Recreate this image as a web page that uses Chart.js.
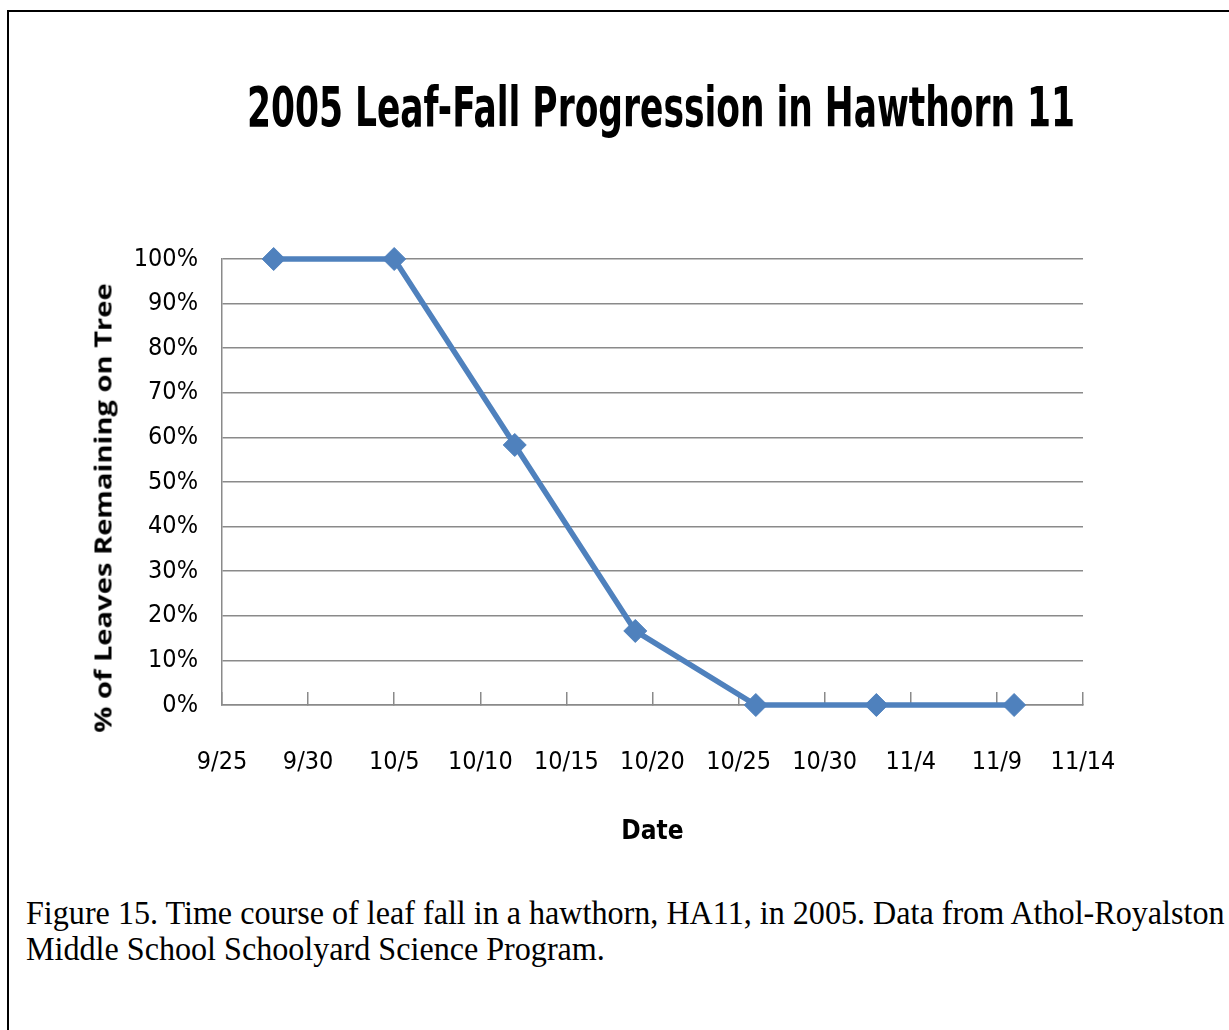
<!DOCTYPE html>
<html>
<head>
<meta charset="utf-8">
<script src="https://cdn.jsdelivr.net/npm/chart.js@4.4.1/dist/chart.umd.min.js"></script>
<style>
    html, body { margin: 0; padding: 0; background: #fff; }
    body { width: 1229px; height: 1030px; position: relative; overflow: hidden; }
    #frame { position: absolute; left: 7px; top: 10px; width: 1240px; height: 1040px;
             border-top: 2px solid #000; border-left: 2px solid #000; }
    #chartBox { position: absolute; left: 0; top: 0; width: 1229px; height: 880px; }
    #chartTitle { position: absolute; left: 247px; top: 79px; transform-origin: left top;
                  font-family: "DejaVu Sans Condensed", "DejaVu Sans", sans-serif; font-weight: bold;
                  font-size: 56px; line-height: 56px; white-space: nowrap; color: #000; }
    #yTitle { position: absolute; left: 102px; top: 508px;
              font-family: "Open Sans", "DejaVu Sans", sans-serif; font-weight: bold; font-size: 24px;
              white-space: nowrap; color: #000; }
    #caption { position: absolute; left: 26px; top: 895px; font-family: "Liberation Serif", "Times New Roman", serif;
               font-size: 33px; line-height: 36px; color: #000; }
    #caption span { display: inline-block; white-space: nowrap; transform-origin: left center; }
</style>
</head>
<body>
<div id="frame"></div>
<div id="chartBox"><canvas id="leafChart" width="1229" height="880"></canvas></div>
<div id="chartTitle">2005 Leaf-Fall Progression in Hawthorn 11</div>
<div id="yTitle">% of Leaves Remaining on Tree</div>
<div id="caption">
    <span id="capLine1">Figure 15. Time course of leaf fall in a hawthorn, HA11, in 2005. Data from Athol-Royalston</span><br>
    <span id="capLine2">Middle School Schoolyard Science Program.</span>
</div>
<script>
// observation dates (2005) and % of leaves still on the tree
var obsDates = ['9/28', '10/5', '10/12', '10/19', '10/26', '11/2', '11/10'];
var leavesPct = [100, 100, 58.3, 16.6, 0, 0, 0];
// x axis ticks, every 5 days starting 9/25
var xTickLabels = ['9/25', '9/30', '10/5', '10/10', '10/15', '10/20', '10/25', '10/30', '11/4', '11/9', '11/14'];
var yTickValues = [0, 10, 20, 30, 40, 50, 60, 70, 80, 90, 100];

var narrowFont = '"Liberation Sans Narrow", "DejaVu Sans Condensed", "Liberation Sans", sans-serif';
var gridGray = '#8a8a8a';

function dayOffset(md) {
    var p = md.split('/');
    var start = xTickLabels[0].split('/');
    return (Date.UTC(2005, +p[0] - 1, +p[1]) - Date.UTC(2005, +start[0] - 1, +start[1])) / 86400000;
}

var points = [];
for (var i = 0; i < obsDates.length; i++) {
    points.push({ x: dayOffset(obsDates[i]), y: leavesPct[i] });
}

var ctx = document.getElementById('leafChart');
var leafChart = new Chart(ctx, {
    type: 'line',
    data: {
        datasets: [{
            label: 'HA11',
            data: points,
            borderColor: '#4F81BD',
            backgroundColor: '#4F81BD',
            borderWidth: 5.5,
            tension: 0,
            pointStyle: 'rectRot',
            pointRadius: 11.5,
            pointBorderWidth: 1,
            pointBackgroundColor: '#4F81BD',
            pointBorderColor: '#4F81BD',
            clip: false
        }]
    },
    options: {
        responsive: false,
        animation: false,
        layout: { padding: { left: 0, right: 146, top: 259, bottom: 0 } },
        plugins: {
            legend: { display: false },
            tooltip: { enabled: false },
            title: { display: false }
        },
        scales: {
            x: {
                type: 'linear',
                min: 0,
                max: (xTickLabels.length - 1) * 5,
                grid: {
                    drawOnChartArea: false,
                    drawTicks: true,
                    tickLength: -13,
                    color: gridGray,
                    lineWidth: 1.5
                },
                border: { color: gridGray, width: 1.5 },
                ticks: {
                    stepSize: 5,
                    padding: 55,
                    color: '#000',
                    maxRotation: 0,
                    autoSkip: false,
                    font: { family: narrowFont, size: 25 },
                    callback: function (v) { return xTickLabels[Math.round(v / 5)]; }
                },
                title: {
                    display: true,
                    text: 'Date',
                    color: '#000',
                    font: { family: narrowFont, size: 26, weight: 'bold' },
                    padding: { top: 0, bottom: 32 }
                },
                afterFit: function (scale) { scale.height = 175; }
            },
            y: {
                min: 0,
                max: 100,
                grid: { color: gridGray, lineWidth: 1.5, drawTicks: false },
                border: { color: gridGray, width: 1.5 },
                afterBuildTicks: function (scale) {
                    scale.ticks = yTickValues.map(function (v) { return { value: v }; });
                },
                ticks: {
                    padding: 24,
                    color: '#000',
                    font: { family: narrowFont, size: 25 },
                    callback: function (v) { return v + '%'; }
                },
                afterFit: function (scale) { scale.width = 222; }
            }
        }
    }
});

// squeeze text blocks to the width they take in the figure
var title = document.getElementById('chartTitle');
title.style.transform = 'scaleX(' + (828 / title.offsetWidth) + ')';

var l1 = document.getElementById('capLine1');
var l2 = document.getElementById('capLine2');
var k = 1199 / l1.offsetWidth;
l1.style.transform = 'scaleX(' + k + ')';
l2.style.transform = 'scaleX(' + k + ')';

var yt = document.getElementById('yTitle');
var ky = 450 / yt.offsetWidth;
yt.style.transform = 'translate(-50%, -50%) rotate(-90deg) scaleX(' + ky + ')';
</script>
</body>
</html>
